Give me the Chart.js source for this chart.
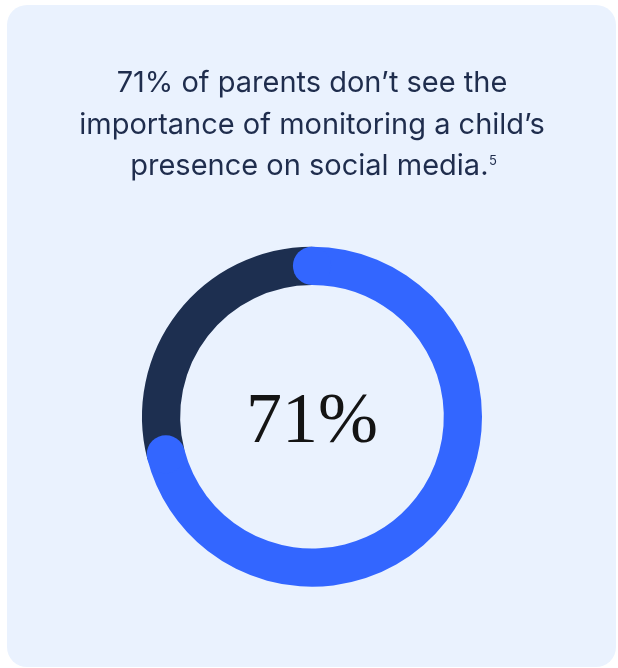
<!DOCTYPE html>
<html>
<head>
<meta charset="utf-8">
<script src="https://cdn.jsdelivr.net/npm/chart.js@4.4.1/dist/chart.umd.min.js"></script>
<style>
  html, body { margin: 0; padding: 0; background: #ffffff; }
  body { width: 618px; height: 668px; position: relative; overflow: hidden; }
  #card { position: absolute; left: 7px; top: 5px; width: 609px; height: 662px; background: #EAF2FE; border-radius: 20px; }
  #wrap { position: absolute; left: 0; top: 0; width: 618px; height: 668px; }
</style>
</head>
<body>
<div id="card"></div>
<div id="wrap"><canvas id="c" width="618" height="668"></canvas></div>
<script>
const categories = ["Don’t see the importance", "See the importance"];
const values = [71, 29];
const titleLines = ["71% of parents don’t see the", "importance of monitoring a child’s", "presence on social media.\u2009"];
const footnoteMark = "5";
const colors = ["#3366FF", "#1D2F50"];
const titleFont = { family: 'Inter, "Noto Sans", sans-serif', size: 29, weight: '400', lineHeight: '41.5px' };

const roundCaps = {
  id: 'roundCaps',
  afterDatasetsDraw(chart) {
    const arc = chart.getDatasetMeta(0).data[0];
    if (!arc) return;
    const p = arc.getProps(['x', 'y', 'startAngle', 'endAngle', 'innerRadius', 'outerRadius'], true);
    const mid = (p.innerRadius + p.outerRadius) / 2;
    const r = (p.outerRadius - p.innerRadius) / 2;
    const ctx = chart.ctx;
    ctx.save();
    ctx.fillStyle = colors[0];
    [p.startAngle, p.endAngle].forEach(a => {
      ctx.beginPath();
      ctx.arc(p.x + mid * Math.cos(a), p.y + mid * Math.sin(a), r, 0, Math.PI * 2);
      ctx.fill();
    });
    ctx.restore();
  }
};

const footnote = {
  id: 'footnote',
  afterDraw(chart) {
    const t = chart.titleBlock;
    if (!t) return;
    const ctx = chart.ctx;
    ctx.save();
    ctx.font = `${titleFont.weight} ${titleFont.size}px ${titleFont.family}`;
    const last = titleLines[titleLines.length - 1];
    const wFull = ctx.measureText(last).width;
    const wText = ctx.measureText(last.trimEnd()).width;
    const cx = (t.left + t.right) / 2;
    const lh = 41.5;
    const lineMid = t.top + t.options.padding.top + lh / 2 + (titleLines.length - 1) * lh;
    const x = cx - wFull / 2 + wText + 0.5;
    ctx.font = `400 13px ${titleFont.family}`;
    ctx.fillStyle = '#1F2D4D';
    ctx.textAlign = 'left';
    ctx.textBaseline = 'middle';
    ctx.fillText(footnoteMark, x, lineMid - 6);
    ctx.restore();
  }
};

const centerText = {
  id: 'centerText',
  afterDraw(chart) {
    const arc = chart.getDatasetMeta(0).data[0];
    if (!arc) return;
    const ctx = chart.ctx;
    ctx.save();
    ctx.font = '400 72px "Liberation Serif", serif';
    ctx.fillStyle = '#141414';
    ctx.textAlign = 'center';
    ctx.textBaseline = 'alphabetic';
    ctx.fillText(values[0] + '%', arc.x, arc.y + 25);
    ctx.restore();
  }
};

new Chart(document.getElementById('c'), {
  type: 'doughnut',
  data: {
    labels: categories,
    datasets: [{
      data: values,
      backgroundColor: colors,
      borderWidth: 0,
      hoverOffset: 0
    }]
  },
  options: {
    responsive: false,
    animation: false,
    events: [],
    radius: 170,
    cutout: 132,
    layout: { padding: { left: 6, right: 0, top: 0, bottom: 81 } },
    plugins: {
      legend: { display: false },
      tooltip: { enabled: false },
      title: {
        display: true,
        text: titleLines,
        color: '#1F2D4D',
        font: titleFont,
        padding: { top: 63, bottom: 59 }
      }
    }
  },
  plugins: [roundCaps, footnote, centerText]
});
</script>
</body>
</html>
